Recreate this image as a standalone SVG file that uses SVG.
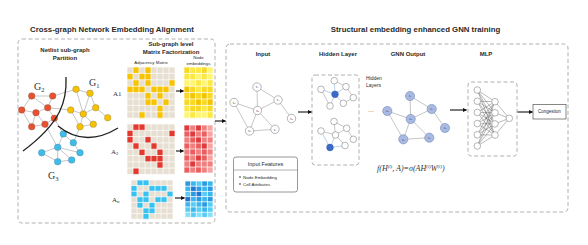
<svg xmlns="http://www.w3.org/2000/svg" width="588" height="245" viewBox="0 0 588 245">
<style>
.t{font-family:"Liberation Sans",Arial,sans-serif;fill:#2a2a2a}
.ttl{font-size:7.8px;font-weight:bold}
.sub{font-size:6px;font-weight:bold}
.sm{font-size:4.4px}
.sr{font-family:"Liberation Serif","Times New Roman",serif;fill:#333}
.dash{fill:none;stroke:#9c9c9c;stroke-width:0.8;stroke-dasharray:4 2.5}
.e{stroke:#8c8c8c;stroke-width:0.5;fill:none}
.eb{stroke:#8fb2e4;stroke-width:0.6;fill:none}
.em{stroke:#3a3a3a;stroke-width:0.35;fill:none}
.cut{fill:none;stroke:#222;stroke-width:1.3}
.arr{stroke:#111;stroke-width:1.1;fill:none;marker-end:url(#ah)}
.nr{fill:#E8512B;stroke:#8a6058;stroke-width:0.4}
.ny{fill:#F6C200;stroke:#8a7c48;stroke-width:0.4}
.nb{fill:#3DBDEA;stroke:#4f7e94;stroke-width:0.4}
.wn{fill:#fff;stroke:#7a7a7a;stroke-width:0.55}
.hb{fill:#3A6BC9;stroke:#2f55a0;stroke-width:0.4}
.zn{fill:#A8BAE3;stroke:#6D80AE;stroke-width:0.55}
.lbl{font-family:"Liberation Serif","Times New Roman",serif;font-size:3.4px;fill:#444;text-anchor:middle}
.grid{fill:none;stroke:#fff;stroke-width:0.7;vector-effect:non-scaling-stroke}
.bg{fill:#E7DFD1}
.cy{fill:#F6C400}.cr{fill:#E2392E}.cb{fill:#38C2F2}
.y0{fill:#FFF572}.y1{fill:#FCE840}.y2{fill:#F8D820}.y3{fill:#F4C400}
.r0{fill:#F7A3A3}.r1{fill:#F27F7F}.r2{fill:#EC5E5E}.r3{fill:#E03B3B}
.b0{fill:#86E0FA}.b1{fill:#55CDF4}.b2{fill:#38B6EE}.b3{fill:#2B98E2}.b4{fill:#2276D6}
</style>
<defs>
<marker id="ah" viewBox="0 0 10 10" refX="9" refY="5" markerWidth="4" markerHeight="4" orient="auto"><path d="M0,0 L10,5 L0,10 z" fill="#111"/></marker>
</defs>
<rect width="588" height="245" fill="#fff"/>

<!-- Titles -->
<text class="t ttl" x="112" y="32" text-anchor="middle">Cross-graph Network Embedding Alignment</text>
<text class="t ttl" x="415.5" y="32" text-anchor="middle">Structural embedding enhanced GNN training</text>

<!-- Left panel -->
<g id="left-panel">
<rect class="dash" x="18" y="39" width="197" height="184" rx="4"/>
<text class="t sub" x="65" y="52" text-anchor="middle">Netlist sub-graph</text>
<text class="t sub" x="65" y="60" text-anchor="middle">Partition</text>
<text class="t sub" x="171" y="46" text-anchor="middle">Sub-graph level</text>
<text class="t sub" x="171" y="54" text-anchor="middle">Matrix Factorization</text>
<text class="t sm" x="151" y="63.5" text-anchor="middle">Adjacency Matrix</text>
<text class="t sm" x="198.5" y="59" text-anchor="middle">Node</text>
<text class="t sm" x="198.5" y="65" text-anchor="middle">embeddings</text>
</g>

<!-- Netlist graph -->
<g id="netlist-graph">
<g class="e">
<path d="M31.7,96L52.7,96M31.7,96L21.7,110M31.7,96L47.7,107.7M21.7,110L36,112.7M36,112.7L47.7,107.7M52.7,96L47.7,107.7M36,112.7L31.7,126.7M36,112.7L45,124.3M45,124.3L54.3,118.3M47.7,107.7L54.3,118.3M21.7,110L31.7,126.7M31.7,126.7L45,124.3"/>
<path d="M52.7,96L76,89.3M47.7,107.7L70.7,110M54.3,118.3L63.3,134M45,124.3L57.7,147.3M73.3,142.7L80,126.7"/>
<path d="M76,89.3L90,93.3M90,93.3L83.3,114M76,89.3L83.3,114M70.7,110L83.3,114M83.3,114L95.7,107.7M95.7,107.7L107.7,117.7M83.3,114L80,126.7M83.3,114L93.3,124.3M80,126.7L93.3,124.3M70.7,110L80,126.7M90,93.3L95.7,107.7"/>
<path d="M63.3,134L57.7,147.3M63.3,134L73.3,142.7M57.7,147.3L41.7,152.7M57.7,147.3L57.7,161.7M57.7,147.3L71.7,160M73.3,142.7L80,152.7M57.7,161.7L71.7,160M41.7,152.7L57.7,161.7M57.7,147.3L80,152.7"/>
</g>
<g id="g2-nodes">
<circle class="nr" cx="31.7" cy="96" r="3.3"/><circle class="nr" cx="52.7" cy="96" r="3.3"/><circle class="nr" cx="21.7" cy="110" r="3.3"/><circle class="nr" cx="36" cy="112.7" r="3.3"/><circle class="nr" cx="47.7" cy="107.7" r="3.3"/><circle class="nr" cx="54.3" cy="118.3" r="3.3"/><circle class="nr" cx="45" cy="124.3" r="3.3"/><circle class="nr" cx="31.7" cy="126.7" r="3.3"/>
</g>
<g id="g1-nodes">
<circle class="ny" cx="76" cy="89.3" r="3.3"/><circle class="ny" cx="90" cy="93.3" r="3.3"/><circle class="ny" cx="70.7" cy="110" r="3.3"/><circle class="ny" cx="83.3" cy="114" r="3.3"/><circle class="ny" cx="95.7" cy="107.7" r="3.3"/><circle class="ny" cx="107.7" cy="117.7" r="3.3"/><circle class="ny" cx="80" cy="126.7" r="3.3"/><circle class="ny" cx="93.3" cy="124.3" r="3.3"/>
</g>
<g id="g3-nodes">
<circle class="nb" cx="63.3" cy="134" r="3.3"/><circle class="nb" cx="73.3" cy="142.7" r="3.3"/><circle class="nb" cx="57.7" cy="147.3" r="3.3"/><circle class="nb" cx="80" cy="152.7" r="3.3"/><circle class="nb" cx="41.7" cy="152.7" r="3.3"/><circle class="nb" cx="57.7" cy="161.7" r="3.3"/><circle class="nb" cx="71.7" cy="160" r="3.3"/>
</g>
<path class="cut" d="M66,77 C67,100 62,122 23,151"/>
<path class="cut" d="M58,126 Q85,148 118,128"/>
<text class="sr" x="89" y="86" font-size="10">G<tspan font-size="6.5" dy="1.8">1</tspan></text>
<text class="sr" x="34" y="90" font-size="10">G<tspan font-size="6.5" dy="1.8">2</tspan></text>
<text class="sr" x="48" y="179" font-size="10">G<tspan font-size="6.5" dy="1.8">3</tspan></text>
</g>

<!-- Adjacency matrices -->
<g id="matrix-a1">
<text class="sr" x="113" y="96" font-size="7">A1</text>
<g transform="translate(127,67) scale(6,6.4)">
<rect class="bg" width="8" height="8"/>
<g class="cy">
<rect x="1" y="0" width="1" height="1"/><rect x="3" y="0" width="1" height="1"/>
<rect x="0" y="1" width="1" height="1"/><rect x="2" y="1" width="1" height="1"/><rect x="3" y="1" width="1" height="1"/>
<rect x="1" y="2" width="1" height="1"/><rect x="3" y="2" width="1" height="1"/><rect x="7" y="2" width="1" height="1"/>
<rect x="0" y="3" width="1" height="1"/><rect x="1" y="3" width="1" height="1"/><rect x="2" y="3" width="1" height="1"/><rect x="4" y="3" width="1" height="1"/><rect x="5" y="3" width="1" height="1"/><rect x="6" y="3" width="1" height="1"/>
<rect x="3" y="4" width="1" height="1"/><rect x="5" y="4" width="1" height="1"/>
<rect x="3" y="5" width="1" height="1"/><rect x="4" y="5" width="1" height="1"/><rect x="6" y="5" width="1" height="1"/>
<rect x="5" y="6" width="1" height="1"/>
<rect x="2" y="7" width="1" height="1"/><rect x="5" y="7" width="1" height="1"/>
</g>
<path class="grid" d="M0 0V8M1 0V8M2 0V8M3 0V8M4 0V8M5 0V8M6 0V8M7 0V8M8 0V8M0 0H8M0 1H8M0 2H8M0 3H8M0 4H8M0 5H8M0 6H8M0 7H8M0 8H8"/>
</g>
</g>

<g id="matrix-a2">
<text class="sr" x="111" y="154" font-size="7">A<tspan font-size="5" dy="1.3">2</tspan></text>
<g transform="translate(127,124) scale(6,6.3)">
<rect class="bg" width="8" height="8"/>
<g class="cr">
<rect x="1" y="0" width="1" height="1"/><rect x="2" y="0" width="1" height="1"/>
<rect x="0" y="1" width="1" height="1"/><rect x="7" y="1" width="1" height="1"/>
<rect x="0" y="2" width="1" height="1"/><rect x="3" y="2" width="1" height="1"/>
<rect x="1" y="3" width="1" height="1"/><rect x="4" y="3" width="1" height="1"/>
<rect x="2" y="4" width="1" height="1"/><rect x="5" y="4" width="1" height="1"/>
<rect x="3" y="5" width="1" height="1"/><rect x="4" y="5" width="1" height="1"/><rect x="5" y="5" width="1" height="1"/>
<rect x="5" y="6" width="1" height="1"/>
<rect x="1" y="7" width="1" height="1"/>
</g>
<path class="grid" d="M0 0V8M1 0V8M2 0V8M3 0V8M4 0V8M5 0V8M6 0V8M7 0V8M8 0V8M0 0H8M0 1H8M0 2H8M0 3H8M0 4H8M0 5H8M0 6H8M0 7H8M0 8H8"/>
</g>
</g>

<g id="matrix-an">
<text class="sr" x="112" y="202" font-size="7">A<tspan font-size="5" dy="1.3">n</tspan></text>
<g transform="translate(131,180) scale(6,5.6)">
<rect class="bg" width="7" height="7"/>
<g class="cb">
<rect x="1" y="0" width="1" height="1"/><rect x="2" y="0" width="1" height="1"/>
<rect x="0" y="1" width="1" height="1"/><rect x="3" y="1" width="1" height="1"/><rect x="4" y="1" width="1" height="1"/><rect x="5" y="1" width="1" height="1"/>
<rect x="0" y="2" width="1" height="1"/><rect x="2" y="2" width="1" height="1"/><rect x="6" y="2" width="1" height="1"/>
<rect x="1" y="3" width="1" height="1"/><rect x="2" y="3" width="1" height="1"/><rect x="4" y="3" width="1" height="1"/><rect x="5" y="3" width="1" height="1"/>
<rect x="1" y="4" width="1" height="1"/><rect x="3" y="4" width="1" height="1"/>
<rect x="2" y="5" width="1" height="1"/><rect x="3" y="5" width="1" height="1"/>
<rect x="2" y="6" width="1" height="1"/>
</g>
<path class="grid" d="M0 0V7M1 0V7M2 0V7M3 0V7M4 0V7M5 0V7M6 0V7M7 0V7M0 0H7M0 1H7M0 2H7M0 3H7M0 4H7M0 5H7M0 6H7M0 7H7"/>
</g>
</g>

<!-- Embedding matrices -->
<g id="emb-yellow" transform="translate(184,67) scale(5.8,6.4)">
<rect class="y2" x="0" y="0" width="1" height="1"/><rect class="y1" x="1" y="0" width="1" height="1"/><rect class="y1" x="2" y="0" width="1" height="1"/><rect class="y2" x="3" y="0" width="1" height="1"/><rect class="y0" x="4" y="0" width="1" height="1"/>
<rect class="y1" x="0" y="1" width="1" height="1"/><rect class="y1" x="1" y="1" width="1" height="1"/><rect class="y0" x="2" y="1" width="1" height="1"/><rect class="y1" x="3" y="1" width="1" height="1"/><rect class="y0" x="4" y="1" width="1" height="1"/>
<rect class="y0" x="0" y="2" width="1" height="1"/><rect class="y0" x="1" y="2" width="1" height="1"/><rect class="y1" x="2" y="2" width="1" height="1"/><rect class="y0" x="3" y="2" width="1" height="1"/><rect class="y1" x="4" y="2" width="1" height="1"/>
<rect class="y3" x="0" y="3" width="1" height="1"/><rect class="y2" x="1" y="3" width="1" height="1"/><rect class="y1" x="2" y="3" width="1" height="1"/><rect class="y2" x="3" y="3" width="1" height="1"/><rect class="y2" x="4" y="3" width="1" height="1"/>
<rect class="y2" x="0" y="4" width="1" height="1"/><rect class="y3" x="1" y="4" width="1" height="1"/><rect class="y2" x="2" y="4" width="1" height="1"/><rect class="y3" x="3" y="4" width="1" height="1"/><rect class="y2" x="4" y="4" width="1" height="1"/>
<rect class="y2" x="0" y="5" width="1" height="1"/><rect class="y2" x="1" y="5" width="1" height="1"/><rect class="y3" x="2" y="5" width="1" height="1"/><rect class="y2" x="3" y="5" width="1" height="1"/><rect class="y3" x="4" y="5" width="1" height="1"/>
<rect class="y1" x="0" y="6" width="1" height="1"/><rect class="y2" x="1" y="6" width="1" height="1"/><rect class="y2" x="2" y="6" width="1" height="1"/><rect class="y1" x="3" y="6" width="1" height="1"/><rect class="y2" x="4" y="6" width="1" height="1"/>
<rect class="y0" x="0" y="7" width="1" height="1"/><rect class="y1" x="1" y="7" width="1" height="1"/><rect class="y0" x="2" y="7" width="1" height="1"/><rect class="y0" x="3" y="7" width="1" height="1"/><rect class="y1" x="4" y="7" width="1" height="1"/>
<path class="grid" d="M0 0V8M1 0V8M2 0V8M3 0V8M4 0V8M5 0V8M0 0H5M0 1H5M0 2H5M0 3H5M0 4H5M0 5H5M0 6H5M0 7H5M0 8H5"/>
</g>

<g id="emb-red" transform="translate(184,125) scale(5.8,6)">
<rect class="r3" x="0" y="0" width="1" height="1"/><rect class="r1" x="1" y="0" width="1" height="1"/><rect class="r3" x="2" y="0" width="1" height="1"/><rect class="r1" x="3" y="0" width="1" height="1"/><rect class="r0" x="4" y="0" width="1" height="1"/>
<rect class="r2" x="0" y="1" width="1" height="1"/><rect class="r3" x="1" y="1" width="1" height="1"/><rect class="r1" x="2" y="1" width="1" height="1"/><rect class="r2" x="3" y="1" width="1" height="1"/><rect class="r0" x="4" y="1" width="1" height="1"/>
<rect class="r1" x="0" y="2" width="1" height="1"/><rect class="r2" x="1" y="2" width="1" height="1"/><rect class="r3" x="2" y="2" width="1" height="1"/><rect class="r1" x="3" y="2" width="1" height="1"/><rect class="r1" x="4" y="2" width="1" height="1"/>
<rect class="r2" x="0" y="3" width="1" height="1"/><rect class="r1" x="1" y="3" width="1" height="1"/><rect class="r2" x="2" y="3" width="1" height="1"/><rect class="r3" x="3" y="3" width="1" height="1"/><rect class="r0" x="4" y="3" width="1" height="1"/>
<rect class="r1" x="0" y="4" width="1" height="1"/><rect class="r2" x="1" y="4" width="1" height="1"/><rect class="r1" x="2" y="4" width="1" height="1"/><rect class="r2" x="3" y="4" width="1" height="1"/><rect class="r1" x="4" y="4" width="1" height="1"/>
<rect class="r2" x="0" y="5" width="1" height="1"/><rect class="r1" x="1" y="5" width="1" height="1"/><rect class="r3" x="2" y="5" width="1" height="1"/><rect class="r2" x="3" y="5" width="1" height="1"/><rect class="r0" x="4" y="5" width="1" height="1"/>
<rect class="r1" x="0" y="6" width="1" height="1"/><rect class="r3" x="1" y="6" width="1" height="1"/><rect class="r1" x="2" y="6" width="1" height="1"/><rect class="r1" x="3" y="6" width="1" height="1"/><rect class="r1" x="4" y="6" width="1" height="1"/>
<rect class="r2" x="0" y="7" width="1" height="1"/><rect class="r1" x="1" y="7" width="1" height="1"/><rect class="r2" x="2" y="7" width="1" height="1"/><rect class="r1" x="3" y="7" width="1" height="1"/><rect class="r0" x="4" y="7" width="1" height="1"/>
<path class="grid" d="M0 0V8M1 0V8M2 0V8M3 0V8M4 0V8M5 0V8M0 0H5M0 1H5M0 2H5M0 3H5M0 4H5M0 5H5M0 6H5M0 7H5M0 8H5"/>
</g>

<g id="emb-blue" transform="translate(185,181) scale(5.6,5.2)">
<rect class="b3" x="0" y="0" width="1" height="1"/><rect class="b2" x="1" y="0" width="1" height="1"/><rect class="b1" x="2" y="0" width="1" height="1"/><rect class="b3" x="3" y="0" width="1" height="1"/><rect class="b2" x="4" y="0" width="1" height="1"/>
<rect class="b2" x="0" y="1" width="1" height="1"/><rect class="b4" x="1" y="1" width="1" height="1"/><rect class="b3" x="2" y="1" width="1" height="1"/><rect class="b2" x="3" y="1" width="1" height="1"/><rect class="b3" x="4" y="1" width="1" height="1"/>
<rect class="b1" x="0" y="2" width="1" height="1"/><rect class="b3" x="1" y="2" width="1" height="1"/><rect class="b4" x="2" y="2" width="1" height="1"/><rect class="b1" x="3" y="2" width="1" height="1"/><rect class="b2" x="4" y="2" width="1" height="1"/>
<rect class="b4" x="0" y="3" width="1" height="1"/><rect class="b2" x="1" y="3" width="1" height="1"/><rect class="b3" x="2" y="3" width="1" height="1"/><rect class="b2" x="3" y="3" width="1" height="1"/><rect class="b3" x="4" y="3" width="1" height="1"/>
<rect class="b2" x="0" y="4" width="1" height="1"/><rect class="b1" x="1" y="4" width="1" height="1"/><rect class="b2" x="2" y="4" width="1" height="1"/><rect class="b3" x="3" y="4" width="1" height="1"/><rect class="b1" x="4" y="4" width="1" height="1"/>
<rect class="b1" x="0" y="5" width="1" height="1"/><rect class="b2" x="1" y="5" width="1" height="1"/><rect class="b1" x="2" y="5" width="1" height="1"/><rect class="b2" x="3" y="5" width="1" height="1"/><rect class="b1" x="4" y="5" width="1" height="1"/>
<rect class="b0" x="0" y="6" width="1" height="1"/><rect class="b1" x="1" y="6" width="1" height="1"/><rect class="b0" x="2" y="6" width="1" height="1"/><rect class="b1" x="3" y="6" width="1" height="1"/><rect class="b0" x="4" y="6" width="1" height="1"/>
<path class="grid" d="M0 0V7M1 0V7M2 0V7M3 0V7M4 0V7M5 0V7M0 0H5M0 1H5M0 2H5M0 3H5M0 4H5M0 5H5M0 6H5M0 7H5"/>
</g>

<!-- Right panel -->
<g id="right-panel">
<rect class="dash" x="226" y="44" width="342" height="168" rx="4"/>
<text class="t sub" x="263" y="56" text-anchor="middle">Input</text>
<text class="t sub" x="338" y="56" text-anchor="middle">Hidden Layer</text>
<text class="t sub" x="408" y="56" text-anchor="middle">GNN Output</text>
<text class="t sub" x="486" y="56" text-anchor="middle">MLP</text>
</g>

<g id="input-graph">
<path class="e" d="M257,87L278,100M257,87L257.5,110.5M234,102.5L257.5,110.5M234,102.5L249.5,131M257.5,110.5L278,100M257.5,110.5L249.5,131M257.5,110.5L275,129.3M249.5,131L275,129.3M278,100L291.5,118.5"/>
<circle class="wn" cx="257" cy="87" r="4.2"/><circle class="wn" cx="234" cy="102.5" r="4.2"/><circle class="wn" cx="278" cy="100" r="4.2"/><circle class="wn" cx="257.5" cy="110.5" r="4.2"/><circle class="wn" cx="291.5" cy="118.5" r="4.2"/><circle class="wn" cx="249.5" cy="131" r="4.2"/><circle class="wn" cx="275" cy="129.3" r="4.2"/>
<text class="lbl" x="257" y="88.2">x<tspan font-size="2.4">1</tspan></text>
<text class="lbl" x="234" y="103.7">x<tspan font-size="2.4">2</tspan></text>
<text class="lbl" x="278" y="101.2">x<tspan font-size="2.4">3</tspan></text>
<text class="lbl" x="257.5" y="111.7">x<tspan font-size="2.4">4</tspan></text>
<text class="lbl" x="291.5" y="119.7">x<tspan font-size="2.4">5</tspan></text>
<text class="lbl" x="249.5" y="132.2">x<tspan font-size="2.4">6</tspan></text>
<text class="lbl" x="275" y="130.5">x<tspan font-size="2.4">7</tspan></text>
</g>

<g id="input-features">
<rect x="233.5" y="157" width="64" height="35" rx="2.5" fill="#fff" stroke="#7c7c7c" stroke-width="0.8"/>
<line x1="233.5" y1="170" x2="297.5" y2="170" stroke="#7c7c7c" stroke-width="0.6"/>
<text class="t" x="265.5" y="166" font-size="5.5" text-anchor="middle">Input Features</text>
<circle cx="240" cy="177" r="0.8" fill="#222"/>
<circle cx="240" cy="184" r="0.8" fill="#222"/>
<text class="t" x="243" y="178.6" font-size="4.4">Node Embedding</text>
<text class="t" x="243" y="185.6" font-size="4.4">Cell Attributes</text>
</g>

<g id="hidden-layer">
<rect class="dash" x="312" y="75" width="47" height="90" rx="3"/>
<g id="hidden-graph-1">
<path class="e" d="M321,89.3L330,106M346,86.7L353.3,97.7M334.3,80.7L346,86.7M343.3,103.3L353.3,97.7"/>
<path class="eb" d="M335,94.3L334.3,80.7M335,94.3L321,89.3M335,94.3L346,86.7M335,94.3L343.3,103.3M335,94.3L330,106"/>
<circle class="wn" cx="334.3" cy="80.7" r="3.3"/><circle class="wn" cx="321" cy="89.3" r="3.3"/><circle class="wn" cx="346" cy="86.7" r="3.3"/><circle class="wn" cx="353.3" cy="97.7" r="3.3"/><circle class="wn" cx="343.3" cy="103.3" r="3.3"/><circle class="wn" cx="330" cy="106" r="3.3"/>
<circle class="hb" cx="335" cy="94.3" r="3.4"/>
</g>
<g id="hidden-graph-2">
<path class="e" d="M334,121.5L335.5,135M334,121.5L346.7,128.3M346.7,128.3L353.3,139.3M335.5,135L346.7,128.3M321,131L335.5,135M335.5,135L345,145.5"/>
<path class="eb" d="M330,147.5L321,131M330,147.5L345,145.5M330,147.5L335.5,135"/>
<circle class="wn" cx="334" cy="121.5" r="3.3"/><circle class="wn" cx="321" cy="131" r="3.3"/><circle class="wn" cx="335.5" cy="135" r="3.3"/><circle class="wn" cx="346.7" cy="128.3" r="3.3"/><circle class="wn" cx="353.3" cy="139.3" r="3.3"/><circle class="wn" cx="345" cy="145.5" r="3.3"/>
<circle class="hb" cx="330" cy="147.5" r="3.4"/>
</g>
<text class="t" x="366" y="80" font-size="5">Hidden</text>
<text class="t" x="366" y="86.5" font-size="5">Layers</text>
<text class="t" x="368" y="113" font-size="6">···</text>
</g>

<g id="gnn-output">
<path class="e" d="M410,96L431.7,109M410,96L410.7,119M387.3,111L410.7,119M387.3,111L403.3,139.3M410.7,119L431.7,109M410.7,119L403.3,139.3M410.7,119L429.3,137.7M403.3,139.3L429.3,137.7M431.7,109L445,128"/>
<circle class="zn" cx="410" cy="96" r="4.6"/><circle class="zn" cx="387.3" cy="111" r="4.6"/><circle class="zn" cx="431.7" cy="109" r="4.6"/><circle class="zn" cx="410.7" cy="119" r="4.6"/><circle class="zn" cx="445" cy="128" r="4.6"/><circle class="zn" cx="403.3" cy="139.3" r="4.6"/><circle class="zn" cx="429.3" cy="137.7" r="4.6"/>
<text class="lbl" x="410" y="97.2">z<tspan font-size="2.4">1</tspan></text>
<text class="lbl" x="387.3" y="112.2">z<tspan font-size="2.4">2</tspan></text>
<text class="lbl" x="431.7" y="110.2">z<tspan font-size="2.4">3</tspan></text>
<text class="lbl" x="410.7" y="120.2">z<tspan font-size="2.4">4</tspan></text>
<text class="lbl" x="445" y="129.2">z<tspan font-size="2.4">5</tspan></text>
<text class="lbl" x="403.3" y="140.5">z<tspan font-size="2.4">6</tspan></text>
<text class="lbl" x="429.3" y="138.9">z<tspan font-size="2.4">7</tspan></text>
<text class="sr" x="377" y="170.5" font-size="8" font-style="italic">f(H<tspan font-size="4.8" dy="-3">(l)</tspan><tspan dy="3">, A)=σ(AH</tspan><tspan font-size="4.8" dy="-3">(l)</tspan><tspan dy="3">W</tspan><tspan font-size="4.8" dy="-3">(l)</tspan><tspan dy="3">)</tspan></text>
</g>

<g id="mlp">
<rect class="dash" x="468" y="82" width="49" height="74" rx="3"/>
<path class="em" d="M477.3,90L495,101.7M477.3,90L495,112.8M477.3,90L495,123.9M477.3,90L495,135M477.3,101.2L495,101.7M477.3,101.2L495,112.8M477.3,101.2L495,123.9M477.3,101.2L495,135M477.3,112.4L495,101.7M477.3,112.4L495,112.8M477.3,112.4L495,123.9M477.3,112.4L495,135M477.3,123.6L495,101.7M477.3,123.6L495,112.8M477.3,123.6L495,123.9M477.3,123.6L495,135M477.3,134.8L495,101.7M477.3,134.8L495,112.8M477.3,134.8L495,123.9M477.3,134.8L495,135M477.3,146L495,101.7M477.3,146L495,112.8M477.3,146L495,123.9M477.3,146L495,135M495,101.7L509.3,118.3M495,112.8L509.3,118.3M495,123.9L509.3,118.3M495,135L509.3,118.3"/>
<circle class="wn" cx="477.3" cy="90" r="3.3"/><circle class="wn" cx="477.3" cy="101.2" r="3.3"/><circle class="wn" cx="477.3" cy="112.4" r="3.3"/><circle class="wn" cx="477.3" cy="123.6" r="3.3"/><circle class="wn" cx="477.3" cy="134.8" r="3.3"/><circle class="wn" cx="477.3" cy="146" r="3.3"/>
<circle class="wn" cx="495" cy="101.7" r="3.3"/><circle class="wn" cx="495" cy="112.8" r="3.3"/><circle class="wn" cx="495" cy="123.9" r="3.3"/><circle class="wn" cx="495" cy="135" r="3.3"/>
<circle class="wn" cx="509.3" cy="118.3" r="3.3"/>
</g>

<g id="congestion">
<rect x="533" y="104.5" width="33" height="14.5" fill="#fff" stroke="#555" stroke-width="0.7"/>
<text class="t" x="549.5" y="113.3" font-size="4.5" text-anchor="middle">Congestion</text>
</g>

<!-- Connectors -->
<g id="connectors">
<line class="arr" x1="176" y1="91" x2="183.5" y2="91"/>
<line class="arr" x1="176" y1="151" x2="183.5" y2="151"/>
<line class="arr" x1="175" y1="198" x2="184.5" y2="198"/>
<line class="arr" x1="215" y1="121" x2="225.5" y2="121"/>
<line class="arr" x1="298" y1="112" x2="311.5" y2="112"/>
<line class="arr" x1="450" y1="110" x2="466.5" y2="110"/>
<line class="arr" x1="517.5" y1="112" x2="532.5" y2="112"/>
</g>
</svg>
